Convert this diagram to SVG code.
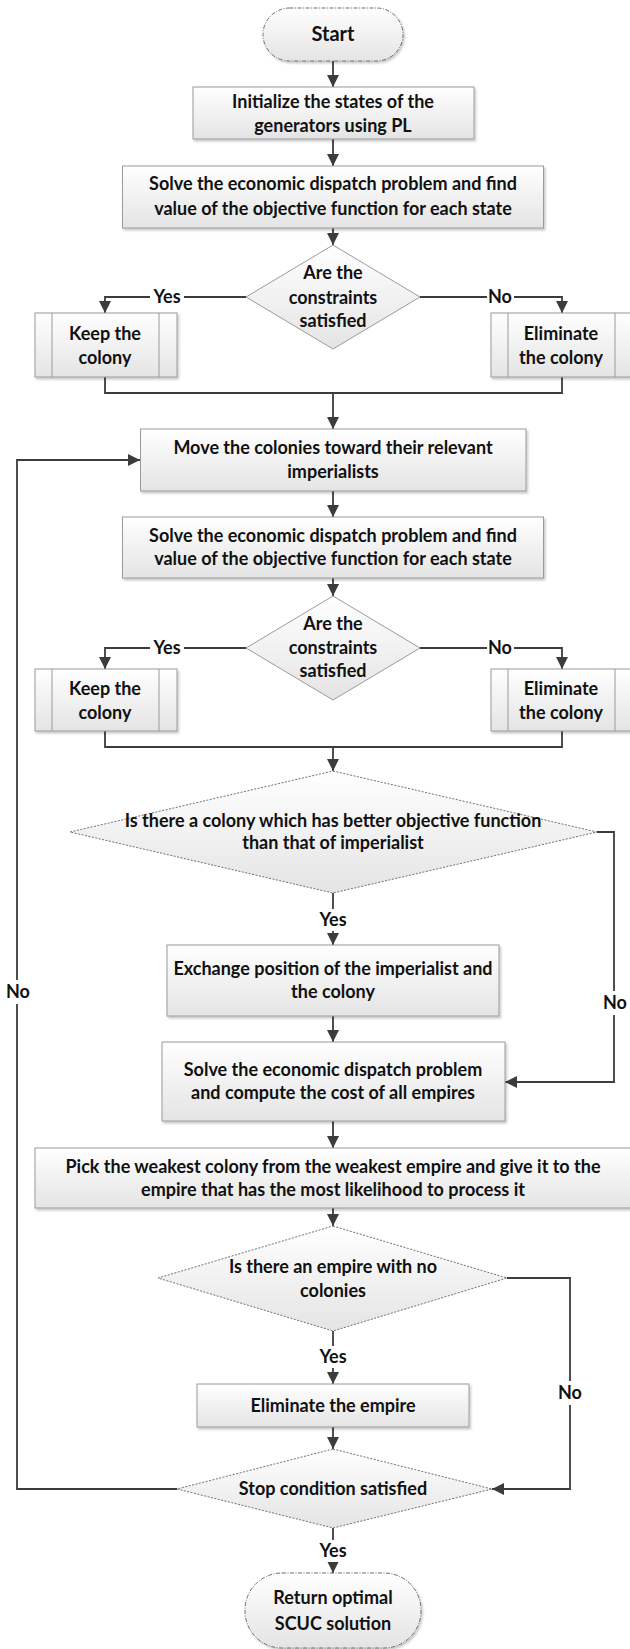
<svg xmlns="http://www.w3.org/2000/svg" width="630" height="1649" viewBox="0 0 630 1649">
<defs>
<linearGradient id="g" x1="0" y1="0" x2="0" y2="1">
<stop offset="0" stop-color="#ffffff"/>
<stop offset="1" stop-color="#e4e4e4"/>
</linearGradient>
<filter id="sh" x="-5%" y="-10%" width="115%" height="130%">
<feDropShadow dx="1.5" dy="2" stdDeviation="1.2" flood-color="#000" flood-opacity="0.22"/>
</filter>
<marker id="ah" markerUnits="userSpaceOnUse" markerWidth="12" markerHeight="12" viewBox="0 0 12 12" refX="12" refY="6" orient="auto">
<path d="M0,0 L12,6 L0,12 z" fill="#3c3c3c"/>
</marker>
<style>
.box{fill:url(#g);stroke:#9a9a9a;stroke-width:1;filter:url(#sh)}
.term{fill:url(#g);stroke:#6a6a6a;stroke-width:1;stroke-dasharray:4 1.5 1 1.5;filter:url(#sh)}
.dia{fill:url(#g);stroke:#9a9a9a;stroke-width:1}
.dd{fill:url(#g);stroke:#707070;stroke-width:1;stroke-dasharray:2 1.5}
.inner{stroke:#9a9a9a;stroke-width:1}
.t{font-family:Lato,"Liberation Sans",sans-serif;font-weight:bold;font-size:18px;fill:#111;text-anchor:middle}
.c{fill:none;stroke:#3c3c3c;stroke-width:1.8}
.a{marker-end:url(#ah)}
.lb{fill:#fff}
</style>
</defs>

<g id="connectors">
<path class="c a" d="M333,61 V87"/>
<path class="c a" d="M333,139 V166"/>
<path class="c a" d="M333,228 V245"/>
<path class="c a" d="M246,297 H105 V313"/>
<path class="c a" d="M420,297 H562 V313"/>
<path class="c" d="M105,377 V393 H562 V377"/>
<path class="c a" d="M333,393 V429"/>
<path class="c a" d="M333,491 V517"/>
<path class="c a" d="M333,578 V596"/>
<path class="c a" d="M246,648 H105 V669"/>
<path class="c a" d="M420,648 H562 V669"/>
<path class="c" d="M105,731 V747 H562 V731"/>
<path class="c a" d="M333,747 V771"/>
<path class="c a" d="M333,893 V945"/>
<path class="c a" d="M597,832 H614 V1082 H505"/>
<path class="c a" d="M333,1016 V1042"/>
<path class="c a" d="M333,1121 V1148"/>
<path class="c a" d="M333,1208 V1226"/>
<path class="c a" d="M333,1331 V1384"/>
<path class="c a" d="M507,1278 H570 V1489 H492"/>
<path class="c a" d="M333,1427 V1449"/>
<path class="c a" d="M177,1489 H17 V460 H140"/>
<path class="c a" d="M333,1528 V1573"/>
<rect class="lb" x="150" y="288" width="34" height="18"/>
<text class="t" x="167" y="303">Yes</text>
<rect class="lb" x="487" y="288" width="27" height="18"/>
<text class="t" x="500" y="303">No</text>
<rect class="lb" x="150" y="639" width="34" height="18"/>
<text class="t" x="167" y="654">Yes</text>
<rect class="lb" x="487" y="639" width="27" height="18"/>
<text class="t" x="500" y="654">No</text>
<rect class="lb" x="315" y="909" width="36" height="22"/>
<text class="t" x="333" y="926">Yes</text>
<rect class="lb" x="601" y="991" width="28" height="24"/>
<text class="t" x="615" y="1009">No</text>
<rect class="lb" x="315" y="1346" width="36" height="22"/>
<text class="t" x="333" y="1363">Yes</text>
<rect class="lb" x="556" y="1381" width="28" height="24"/>
<text class="t" x="570" y="1399">No</text>
<rect class="lb" x="4" y="980" width="28" height="24"/>
<text class="t" x="18" y="998">No</text>
<rect class="lb" x="315" y="1540" width="36" height="22"/>
<text class="t" x="333" y="1557">Yes</text>
</g>

<g id="start">
<rect class="term" x="263" y="8" width="140" height="53" rx="26.5"/>
<text class="t" x="333" y="41" style="font-size:20px">Start</text>
</g>
<g id="init">
<rect class="box" x="193" y="87" width="281" height="52"/>
<text class="t" x="333" y="108">Initialize the states of the</text>
<text class="t" x="333" y="132">generators using PL</text>
</g>
<g id="solve1">
<rect class="box" x="122.5" y="166" width="421" height="62"/>
<text class="t" x="333" y="190">Solve the economic dispatch problem and find</text>
<text class="t" x="333" y="215">value of the objective function for each state</text>
</g>
<g id="check1">
<polygon class="dia" points="333,245 420,297 333,349 246,297"/>
<text class="t" x="333" y="279">Are the</text>
<text class="t" x="333" y="304">constraints</text>
<text class="t" x="333" y="327">satisfied</text>
</g>
<g id="keep1">
<rect class="box" x="35" y="313" width="142" height="64"/>
<line class="inner" x1="52" y1="313" x2="52" y2="377"/>
<line class="inner" x1="159" y1="313" x2="159" y2="377"/>
<text class="t" x="105" y="340">Keep the</text>
<text class="t" x="105" y="364">colony</text>
</g>
<g id="elim1">
<rect class="box" x="491" y="313" width="142" height="64"/>
<line class="inner" x1="508" y1="313" x2="508" y2="377"/>
<line class="inner" x1="615" y1="313" x2="615" y2="377"/>
<text class="t" x="561" y="340">Eliminate</text>
<text class="t" x="561" y="364">the colony</text>
</g>
<g id="move">
<rect class="box" x="140.5" y="429" width="385.5" height="62"/>
<text class="t" x="333" y="454">Move the colonies toward their relevant</text>
<text class="t" x="333" y="478">imperialists</text>
</g>
<g id="solve2">
<rect class="box" x="122.5" y="517" width="421" height="61"/>
<text class="t" x="333" y="542">Solve the economic dispatch problem and find</text>
<text class="t" x="333" y="565">value of the objective function for each state</text>
</g>
<g id="check2">
<polygon class="dia" points="333,596 420,648 333,700 246,648"/>
<text class="t" x="333" y="630">Are the</text>
<text class="t" x="333" y="654">constraints</text>
<text class="t" x="333" y="677">satisfied</text>
</g>
<g id="keep2">
<rect class="box" x="35" y="669" width="142" height="62"/>
<line class="inner" x1="52" y1="669" x2="52" y2="731"/>
<line class="inner" x1="159" y1="669" x2="159" y2="731"/>
<text class="t" x="105" y="695">Keep the</text>
<text class="t" x="105" y="719">colony</text>
</g>
<g id="elim2">
<rect class="box" x="491" y="669" width="142" height="62"/>
<line class="inner" x1="508" y1="669" x2="508" y2="731"/>
<line class="inner" x1="615" y1="669" x2="615" y2="731"/>
<text class="t" x="561" y="695">Eliminate</text>
<text class="t" x="561" y="719">the colony</text>
</g>
<g id="check3">
<polygon class="dd" points="333,771 597,832 333,893 70,832"/>
<text class="t" x="333" y="827">Is there a colony which has better objective function</text>
<text class="t" x="333" y="849">than that of imperialist</text>
</g>
<g id="exchange">
<rect class="box" x="167" y="945" width="332" height="71"/>
<text class="t" x="333" y="975">Exchange position of the imperialist and</text>
<text class="t" x="333" y="998">the colony</text>
</g>
<g id="solve3">
<rect class="box" x="162" y="1042" width="343" height="79"/>
<text class="t" x="333" y="1076">Solve the economic dispatch problem</text>
<text class="t" x="333" y="1099">and compute the cost of all empires</text>
</g>
<g id="pick">
<rect class="box" x="35" y="1148" width="600" height="60"/>
<text class="t" x="333" y="1173">Pick the weakest colony from the weakest empire and give it to the</text>
<text class="t" x="333" y="1196">empire that has the most likelihood to process it</text>
</g>
<g id="check4">
<polygon class="dd" points="333,1226 507,1278 333,1331 158,1278"/>
<text class="t" x="333" y="1273">Is there an empire with no</text>
<text class="t" x="333" y="1297">colonies</text>
</g>
<g id="elimEmpire">
<rect class="box" x="197" y="1384" width="272" height="43"/>
<text class="t" x="333" y="1412">Eliminate the empire</text>
</g>
<g id="stop">
<polygon class="dd" points="333,1449 492,1489 333,1528 177,1489"/>
<text class="t" x="333" y="1495">Stop condition satisfied</text>
</g>
<g id="end">
<rect class="term" x="245" y="1573" width="176" height="75" rx="37"/>
<text class="t" x="333" y="1604">Return optimal</text>
<text class="t" x="333" y="1630">SCUC solution</text>
</g>
</svg>
